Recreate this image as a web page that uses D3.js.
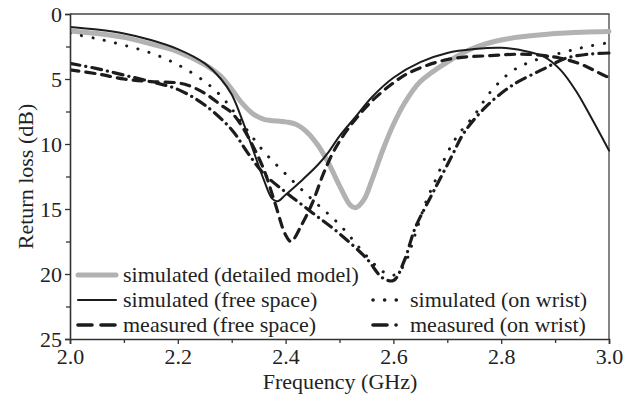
<!DOCTYPE html>
<html>
<head>
<meta charset="utf-8">
<script src="https://cdn.jsdelivr.net/npm/d3@7"></script>
<style>
  html, body { margin: 0; padding: 0; background: #fff; }
  svg { display: block; }
  text { font-family: "Liberation Serif", "Times New Roman", serif; fill: #222; }
</style>
</head>
<body>
<svg id="chart" width="629" height="403"></svg>
<script>
// Return loss curves, frequency in GHz, loss in dB
const simDetailedF = [2.00,2.05,2.10,2.15,2.20,2.25,2.28,2.30,2.32,2.34,2.36,2.40,2.42,2.44,2.46,2.48,2.50,2.52,2.53,2.545,2.56,2.58,2.60,2.62,2.65,2.70,2.75,2.80,2.85,2.90,2.95,3.00];
const simDetailedL = [1.3,1.5,1.8,2.3,2.9,3.9,4.8,5.8,6.9,7.7,8.1,8.3,8.5,9.1,10.1,11.5,13.2,14.7,14.9,14.3,12.8,10.5,8.5,6.9,5.2,3.7,2.6,2.0,1.7,1.5,1.4,1.35];

const simFreeF = [2.00,2.05,2.10,2.15,2.20,2.25,2.28,2.30,2.32,2.34,2.36,2.375,2.385,2.40,2.43,2.46,2.48,2.50,2.53,2.56,2.60,2.65,2.70,2.75,2.80,2.85,2.88,2.91,2.94,2.97,3.00];
const simFreeL = [1.0,1.2,1.5,2.0,2.7,3.8,5.0,6.2,8.2,10.5,12.8,14.2,14.4,13.9,12.8,11.6,10.6,9.4,7.9,6.4,4.9,3.7,3.0,2.7,2.6,2.9,3.3,4.3,6.0,8.2,10.5];

const measFreeF = [2.00,2.05,2.10,2.15,2.20,2.22,2.25,2.28,2.30,2.32,2.34,2.36,2.38,2.40,2.41,2.43,2.45,2.47,2.49,2.52,2.56,2.60,2.63,2.70,2.78,2.85,2.91,2.95,2.98,3.00];
const measFreeL = [4.3,4.6,5.0,5.2,5.3,5.5,6.1,7.0,7.6,8.7,10.2,12.0,14.5,17.0,17.5,16.2,14.5,12.3,10.5,8.6,6.7,5.3,4.5,3.5,3.2,3.1,3.4,3.9,4.5,4.9];

const simWristF = [2.00,2.05,2.10,2.15,2.20,2.25,2.28,2.30,2.33,2.36,2.40,2.45,2.50,2.55,2.58,2.60,2.62,2.64,2.66,2.68,2.70,2.72,2.75,2.78,2.82,2.86,2.92,2.96,3.00];
const simWristL = [1.5,1.9,2.4,3.0,3.9,5.2,6.3,7.3,9.0,10.6,12.3,14.3,16.2,18.6,19.8,20.1,19.3,17.0,14.5,12.6,10.7,9.3,7.8,6.0,4.4,3.6,2.9,2.5,2.2];

const measWristF = [2.00,2.05,2.10,2.15,2.20,2.25,2.30,2.33,2.36,2.40,2.45,2.50,2.55,2.58,2.60,2.62,2.64,2.67,2.69,2.71,2.73,2.77,2.82,2.88,2.92,2.96,3.00];
const measWristL = [3.8,4.2,4.7,5.2,5.8,7.0,8.9,10.7,12.3,13.7,15.3,16.9,18.8,20.3,20.5,19.0,16.5,14.0,12.4,10.8,9.2,7.2,5.5,4.2,3.4,3.1,3.0];

const xTicks = [2.0, 2.2, 2.4, 2.6, 2.8, 3.0];
const xMinor = [2.1, 2.3, 2.5, 2.7, 2.9];
const yTicks = [0, 5, 10, 15, 20, 25];
const yMinor = [2.5, 7.5, 12.5, 17.5, 22.5];

const legendLabels = [
  "simulated (detailed model)",
  "simulated (free space)",
  "measured (free space)",
  "simulated (on wrist)",
  "measured (on wrist)"
];

const svg = d3.select("#chart");
const plotL = 70, plotR = 609, plotT = 14, plotB = 339;

const x = d3.scaleLinear().domain([2.0, 3.0]).range([plotL, plotR]);
const y = d3.scaleLinear().domain([0, 25]).range([plotT, plotB]);

const ink = "#1c1c1c";
const grey = "#b2b2b2";

// line styles per series
const styles = [
  { stroke: grey, width: 5, dash: null, cap: "round" },
  { stroke: ink, width: 2, dash: null, cap: "round" },
  { stroke: ink, width: 3.2, dash: "9 7", cap: "round" },
  { stroke: ink, width: 3, dash: "0.1 11.5", cap: "round" },
  { stroke: ink, width: 3.2, dash: "10 6 0.1 6", cap: "round" }
];

const series = [
  [simDetailedF, simDetailedL],
  [simFreeF, simFreeL],
  [measFreeF, measFreeL],
  [simWristF, simWristL],
  [measWristF, measWristL]
];

// plot frame (top and right sides)
svg.append("path")
  .attr("d", `M${plotL},${plotT}H${plotR}V${plotB}`)
  .attr("fill", "none").attr("stroke", "#444").attr("stroke-width", 1.3);

svg.append("defs").append("clipPath").attr("id", "plotclip")
  .append("rect").attr("x", plotL).attr("y", plotT - 3).attr("width", plotR - plotL + 3).attr("height", plotB - plotT + 3);

const line = d3.line()
  .x(d => x(d[0]))
  .y(d => y(d[1]))
  .curve(d3.curveCatmullRom.alpha(0.5));

const plot = svg.append("g").attr("clip-path", "url(#plotclip)");
series.forEach((s, i) => {
  const pts = s[0].map((f, k) => [f, s[1][k]]);
  const st = styles[i];
  plot.append("path")
    .attr("d", line(pts))
    .attr("fill", "none")
    .attr("stroke", st.stroke)
    .attr("stroke-width", st.width)
    .attr("stroke-linecap", st.cap)
    .attr("stroke-linejoin", "round")
    .attr("stroke-dasharray", st.dash);
});

// axes
const gx = svg.append("g").attr("transform", `translate(0,${plotB})`)
  .call(d3.axisBottom(x).tickValues(xTicks).tickFormat(d3.format(".1f")).tickSize(5).tickPadding(4));
svg.append("g").attr("transform", `translate(0,${plotB})`)
  .call(d3.axisBottom(x).tickValues(xMinor).tickFormat("").tickSize(4))
  .select(".domain").remove();

const gy = svg.append("g").attr("transform", `translate(${plotL},0)`)
  .call(d3.axisLeft(y).tickValues(yTicks).tickFormat(d3.format("d")).tickSize(5).tickPadding(3));
svg.append("g").attr("transform", `translate(${plotL},0)`)
  .call(d3.axisLeft(y).tickValues(yMinor).tickFormat("").tickSize(4))
  .select(".domain").remove();

svg.selectAll(".domain").attr("stroke", "#333").attr("stroke-width", 1.6);
svg.selectAll(".tick line").attr("stroke", "#333").attr("stroke-width", 1.3);
svg.selectAll(".tick text")
  .style("font-family", "'Liberation Serif', 'Times New Roman', serif")
  .style("font-size", "22px")
  .attr("fill", "#222");
gy.selectAll(".tick text").attr("dy", "0.34em");
gx.selectAll(".tick text").attr("dy", "0.71em");

// axis titles
svg.append("text")
  .attr("x", 340).attr("y", 389)
  .attr("text-anchor", "middle")
  .style("font-size", "22px")
  .text("Frequency (GHz)");

svg.append("text")
  .attr("transform", `translate(33,${(plotT + plotB) / 2}) rotate(-90)`)
  .attr("text-anchor", "middle")
  .style("font-size", "22px")
  .text("Return loss (dB)");

// legend: first column at left, on-wrist entries in second column
const legendPos = [
  { lx: 78, ly: 275, len: 38 },
  { lx: 78, ly: 300, len: 38 },
  { lx: 78, ly: 325, len: 38 },
  { lx: 373, ly: 300, len: 26 },
  { lx: 373, ly: 325, len: 26 }
];
const legendDash = [null, null, "14 9", "0.1 11.5", "14 9 0.1 9"];
legendLabels.forEach((lab, i) => {
  const p = legendPos[i];
  const st = styles[i];
  svg.append("path")
    .attr("d", d3.line()([[p.lx, p.ly], [p.lx + p.len, p.ly]]))
    .attr("stroke", st.stroke)
    .attr("stroke-width", i === 0 ? 5 : (i === 1 ? 2.2 : 3.6))
    .attr("stroke-linecap", st.cap)
    .attr("stroke-dasharray", legendDash[i])
    .attr("fill", "none");
  svg.append("text")
    .attr("x", p.lx + p.len + (i < 3 ? 7 : 11))
    .attr("y", p.ly + 7)
    .style("font-size", "22px")
    .text(lab);
});
</script>
</body>
</html>
